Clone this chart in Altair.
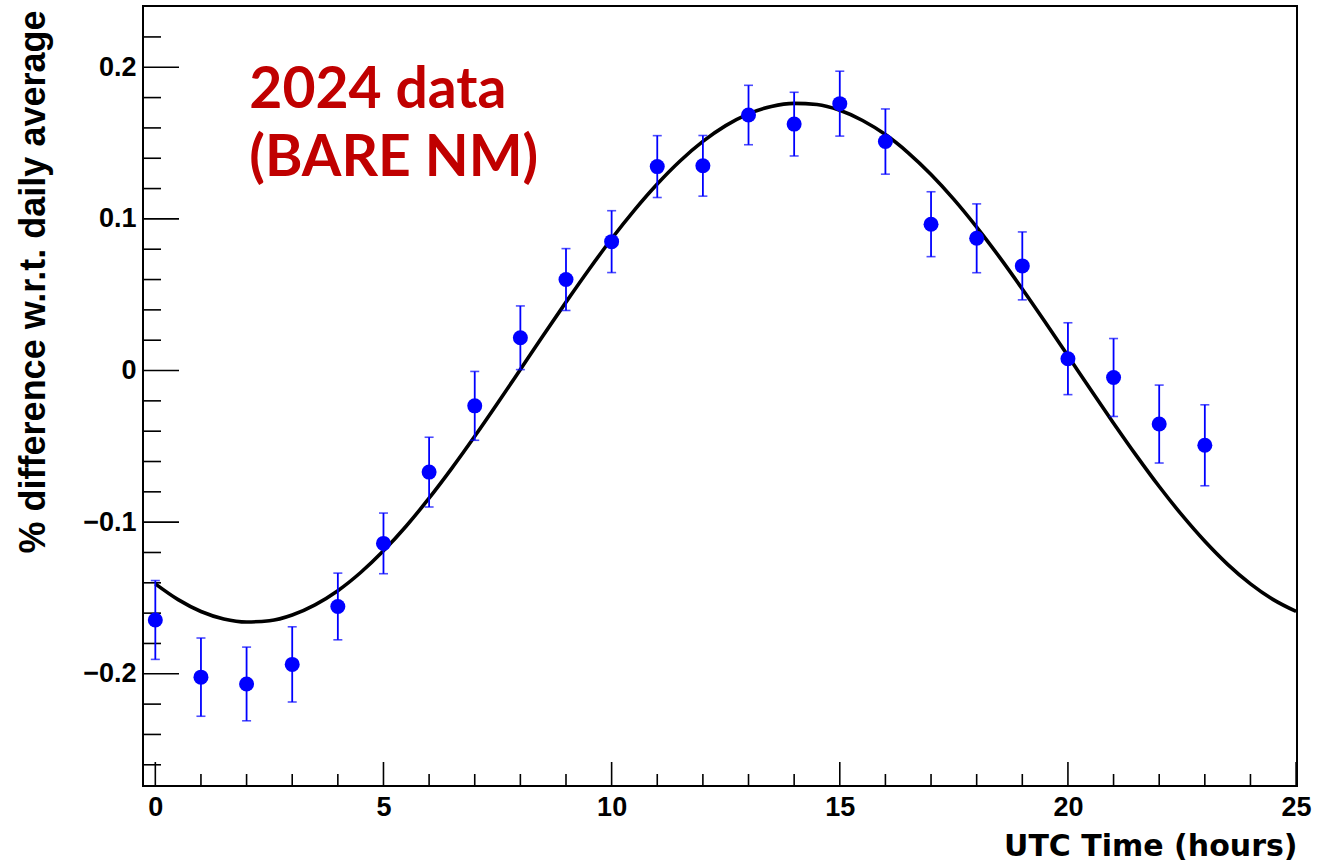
import altair as alt
import pandas as pd

# ---- data ----
hours = list(range(24))
pct_diff = [-0.1645, -0.2022, -0.2067, -0.1938, -0.1556, -0.1140, -0.0670, -0.0233,
            0.0216, 0.0600, 0.0850, 0.1345, 0.1350, 0.1685, 0.1625, 0.1760,
            0.1510, 0.0965, 0.0872, 0.0690, 0.0078, -0.0046, -0.0353, -0.0493]
pct_err = [0.0260, 0.0258, 0.0243, 0.0248, 0.0220, 0.0200, 0.0230, 0.0227,
           0.0210, 0.0204, 0.0204, 0.0204, 0.0200, 0.0196, 0.0210, 0.0214,
           0.0215, 0.0214, 0.0227, 0.0224, 0.0237, 0.0257, 0.0257, 0.0267]

fit_t = [0, 0.5, 1, 1.5, 2, 2.5, 3, 3.5, 4, 4.5, 5, 5.5, 6, 6.5, 7, 7.5, 8, 8.5,
         9, 9.5, 10, 10.5, 11, 11.5, 12, 12.5, 13, 13.5, 14, 14.5, 15, 15.5, 16,
         16.5, 17, 17.5, 18, 18.5, 19, 19.5, 20, 20.5, 21, 21.5, 22, 22.5, 23,
         23.5, 24, 24.5, 25]
fit_v = [-0.1407, -0.1511, -0.1589, -0.1638, -0.1658, -0.1650, -0.1612, -0.1545,
         -0.1452, -0.1332, -0.1189, -0.1025, -0.0842, -0.0644, -0.0434, -0.0216,
         0.0007, 0.0231, 0.0451, 0.0665, 0.0869, 0.1058, 0.1230, 0.1382, 0.1511,
         0.1615, 0.1693, 0.1742, 0.1762, 0.1754, 0.1716, 0.1649, 0.1556, 0.1436,
         0.1293, 0.1129, 0.0946, 0.0748, 0.0538, 0.0320, 0.0097, -0.0127, -0.0347,
         -0.0561, -0.0765, -0.0954, -0.1126, -0.1278, -0.1407, -0.1511, -0.1589]

x_major = [0, 5, 10, 15, 20, 25]
x_minor = [1, 2, 3, 4, 6, 7, 8, 9, 11, 12, 13, 14, 16, 17, 18, 19, 21, 22, 23, 24]
y_major = [-0.2, -0.1, 0.0, 0.1, 0.2]
y_minor = [-0.26, -0.24, -0.22, -0.18, -0.16, -0.14, -0.12, -0.08, -0.06, -0.04,
           -0.02, 0.02, 0.04, 0.06, 0.08, 0.12, 0.14, 0.16, 0.18, 0.22]

note_lines = ["2024 data", "(BARE NM)"]
note_x = [2.06, 2.06]
note_y = [0.1732, 0.1283]

# ---- layout ----
W, H = 1154, 780
AX_FONT = "Liberation Sans"

pts = pd.DataFrame({"t": hours, "v": pct_diff, "e": pct_err})
pts["lo"] = pts["v"] - pts["e"]
pts["hi"] = pts["v"] + pts["e"]
fit = pd.DataFrame({"t": fit_t, "v": fit_v})
notes = pd.DataFrame({"t": note_x, "v": note_y, "txt": note_lines})

xscale = alt.Scale(domain=[-0.27, 25.02], nice=False, zero=False)
yscale = alt.Scale(domain=[-0.274, 0.2404], nice=False, zero=False)

xaxis = alt.Axis(
    title="UTC Time (hours)", values=x_major, format="d", ticks=False, tickSize=0,
    domain=False, grid=False, labelFont=AX_FONT, labelFontSize=27,
    labelFontWeight="bold", labelColor="black", labelPadding=8,
    labelFlush=False, labelOverlap=False,
    titleFont="DejaVu Sans", titleFontSize=30, titleFontWeight="bold",
    titleColor="black", titleAlign="right", titleAnchor="end",
    titleBaseline="alphabetic", titleX=W, titleY=69,
)
yaxis = alt.Axis(
    title="% difference w.r.t. daily average", values=y_major, format="~f",
    ticks=False, tickSize=0, domain=False, grid=False, labelFont=AX_FONT,
    labelFontSize=27, labelFontWeight="bold", labelColor="black",
    labelPadding=7, labelFlush=False, labelOverlap=False, labelBaseline="middle",
    titleFont=AX_FONT, titleFontSize=36, titleFontWeight="bold",
    titleColor="black", titleAngle=270, titleAlign="right", titleAnchor="end",
    titleBaseline="alphabetic", titleX=-99, titleY=4,
)


def X(field):
    return alt.X(f"{field}:Q", scale=xscale, axis=xaxis)


def Y(field):
    return alt.Y(f"{field}:Q", scale=yscale, axis=yaxis)


BLUE = "#0000ff"

fit_line = alt.Chart(fit).mark_line(color="black", strokeWidth=3.6, clip=True,
                                    interpolate="monotone").encode(x=X("t"), y=Y("v"))

err_rule = alt.Chart(pts).mark_rule(color=BLUE, strokeWidth=1.8).encode(
    x=X("t"), y=Y("lo"), y2="hi")
cap_lo = alt.Chart(pts).mark_tick(color=BLUE, orient="horizontal", size=9,
                                  thickness=1.6).encode(x=X("t"), y=Y("lo"))
cap_hi = alt.Chart(pts).mark_tick(color=BLUE, orient="horizontal", size=9,
                                  thickness=1.6).encode(x=X("t"), y=Y("hi"))
points = alt.Chart(pts).mark_circle(color=BLUE, opacity=1, size=225).encode(
    x=X("t"), y=Y("v"))

xmaj = alt.Chart(pd.DataFrame({"t": x_major})).mark_rule(color="black", strokeWidth=1.6).encode(
    x=X("t"), y=alt.value(H), y2=alt.value(H - 24))
xmin = alt.Chart(pd.DataFrame({"t": x_minor})).mark_rule(color="black", strokeWidth=1.6).encode(
    x=X("t"), y=alt.value(H), y2=alt.value(H - 12))
ymaj = alt.Chart(pd.DataFrame({"v": y_major})).mark_rule(color="black", strokeWidth=1.6).encode(
    y=Y("v"), x=alt.value(0), x2=alt.value(36))
ymin = alt.Chart(pd.DataFrame({"v": y_minor})).mark_rule(color="black", strokeWidth=1.6).encode(
    y=Y("v"), x=alt.value(0), x2=alt.value(18))

note = alt.Chart(notes).mark_text(
    color="#c00000", font="Lato", fontSize=57, fontWeight="bold",
    align="left", baseline="alphabetic").encode(x=X("t"), y=Y("v"), text="txt:N")

chart = alt.layer(
    xmaj, xmin, ymaj, ymin, fit_line, err_rule, cap_lo, cap_hi, points, note
).properties(
    width=W, height=H,
    autosize=alt.AutoSizeParams(type="none"),
    padding={"left": 143, "top": 6, "right": 40, "bottom": 80},
    background="white",
).configure_view(stroke="black", strokeWidth=2)

chart.save("out.html", embed_options={"renderer": "svg", "actions": False})
